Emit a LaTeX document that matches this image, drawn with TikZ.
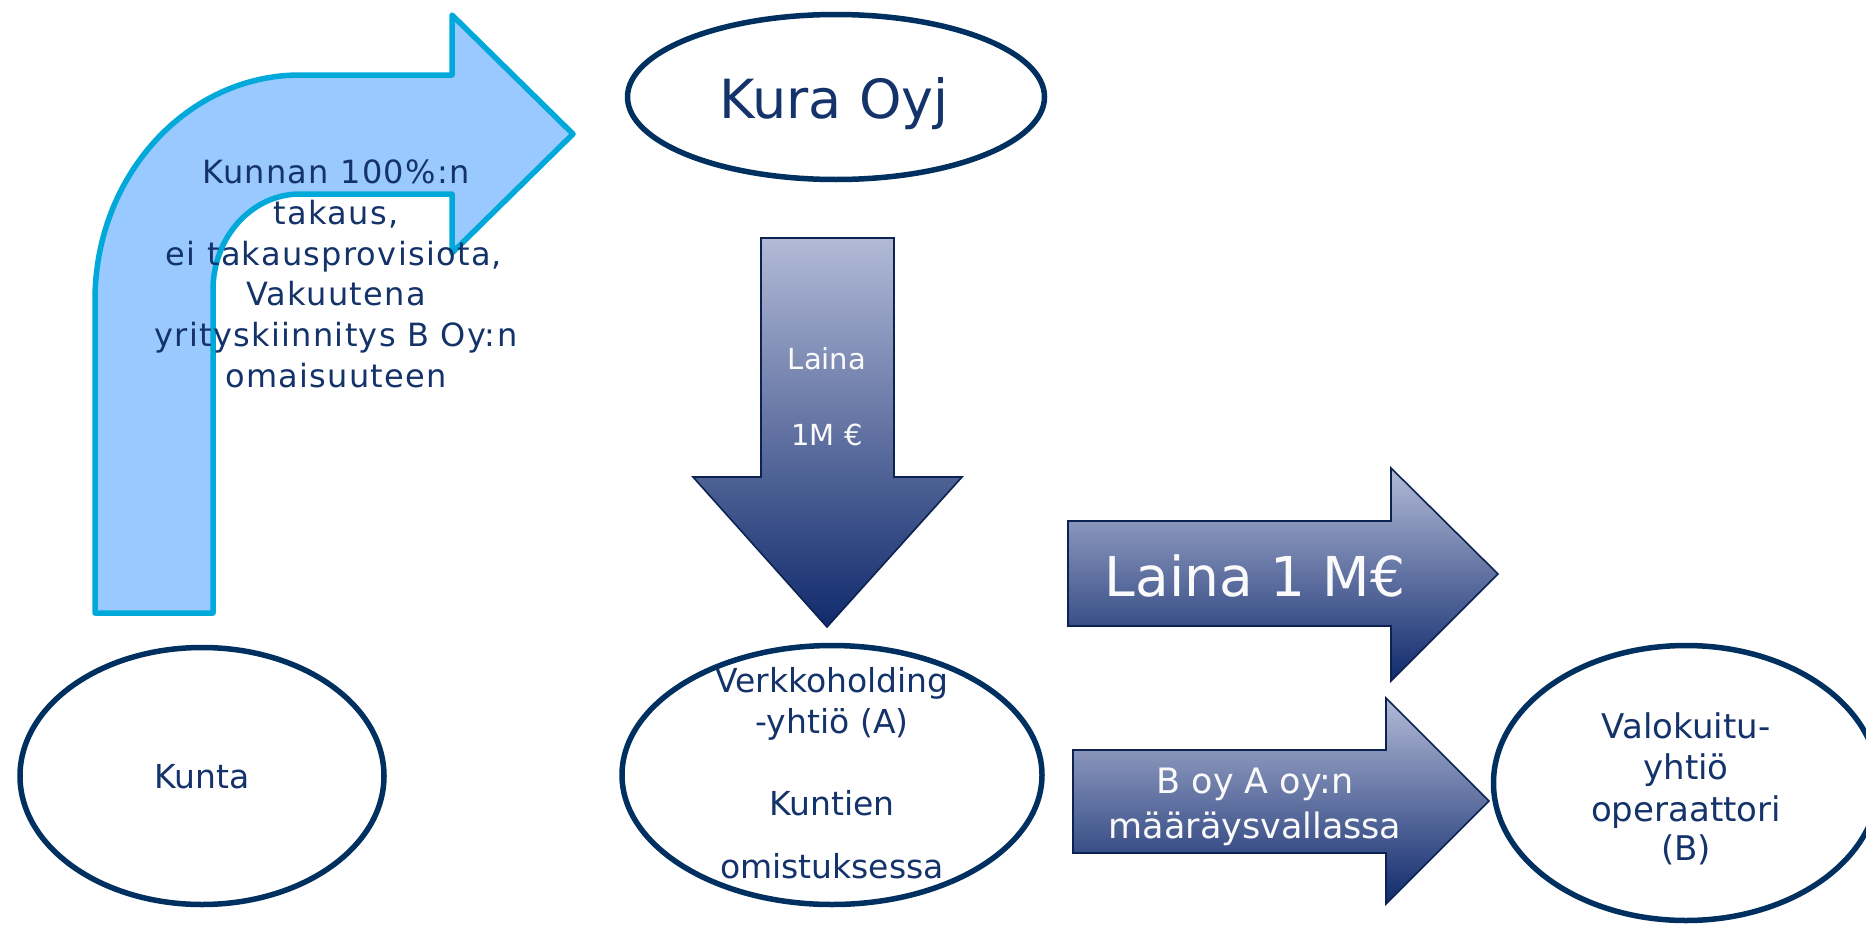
\documentclass[tikz,border=0pt]{standalone}
\usepackage{fontspec}
\setmainfont{DejaVu Sans}
\usetikzlibrary{shapes.geometric}
\definecolor{ellline}{HTML}{00305F}
\definecolor{txtnavy}{HTML}{14336A}
\definecolor{bentfill}{HTML}{99C9FF}
\definecolor{bentline}{HTML}{00A9D9}
\definecolor{gradtop}{HTML}{B2BAD7}
\definecolor{gradmid}{HTML}{858DAE}
\definecolor{gradbot}{HTML}{102A6C}
\definecolor{gradline}{HTML}{0C2352}
\tikzset{
  entity/.style={ellipse, draw=ellline, line width=5.5pt, inner sep=0pt, fill=white},
  bentarrow/.style={draw=bentline, fill=bentfill, line width=5.5pt, line join=round},
  gradarrow/.style={draw=gradline, line width=1.6pt, top color=gradtop, middle color=gradmid, bottom color=gradbot, line join=miter},
  dtxt/.style={anchor=base, inner sep=0pt, text=txtnavy},
  wtxt/.style={anchor=base, inner sep=0pt, text=white!96!gray},
}
\newcommand{\fsz}[1]{\fontsize{#1}{#1}\selectfont}
\newcommand{\bentfont}{\fontsize{32}{32}\selectfont\addfontfeature{LetterSpace=4}}
\begin{document}
\begin{tikzpicture}[x=1pt,y=-1pt]
\useasboundingbox (0,0) rectangle (1866,926);

% bent arrow
\path[bentarrow] (95,613) -- (95,300) .. controls (95,176) and (187,75) .. (300,75)
  -- (452,75) -- (452,15) -- (573,134) -- (452,253) -- (452,194) -- (300,194)
  .. controls (252,194) and (213,237) .. (213,290) -- (213,613) -- cycle;
\node[dtxt, font=\bentfont] (g1) at (336,183) {Kunnan 100\%:n};
\node[dtxt, font=\bentfont] (g2) at (336,224) {takaus,};
\node[dtxt, font=\bentfont] (g3) at (334,265) {ei takausprovisiota,};
\node[dtxt, font=\bentfont] (g4) at (336,305) {Vakuutena};
\node[dtxt, font=\bentfont] (g5) at (336,346) {yrityskiinnitys B Oy:n};
\node[dtxt, font=\bentfont] (g6) at (336,387) {omaisuuteen};

% Kura Oyj
\node[entity, minimum width=417pt, minimum height=165pt] (kura) at (836,97) {};
\node[dtxt, font=\fsz{54}] (kuratxt) at (834,118) {Kura Oyj};

% down arrow
\path[gradarrow] (761,238) -- (894,238) -- (894,477) -- (962,477) -- (827,627)
  -- (693,477) -- (761,477) -- cycle;
\node[wtxt, font=\fsz{29}] (l1) at (827,369) {Laina};
\node[wtxt, font=\fsz{29}] (l2) at (827,445) {1M €};

% right arrow 1
\path[gradarrow] (1068,521) -- (1391,521) -- (1391,468) -- (1498,574) -- (1391,681)
  -- (1391,626) -- (1068,626) -- cycle;
\node[wtxt, font=\fsz{55}] (r1) at (1255,596) {Laina 1 M€};

% right arrow 2
\path[gradarrow] (1073,750) -- (1386,750) -- (1386,698) -- (1489,801) -- (1386,904)
  -- (1386,853) -- (1073,853) -- cycle;
\node[wtxt, font=\fsz{35}] (r2a) at (1255,793) {B oy A oy:n};
\node[wtxt, font=\fsz{35}] (r2b) at (1255,838) {määräysvallassa};

% Kunta
\node[entity, minimum width=364pt, minimum height=257pt] (kunta) at (202,776) {};
\node[dtxt, font=\fsz{33}] (kuntatxt) at (202,788) {Kunta};

% Verkkoholding
\node[entity, minimum width=420pt, minimum height=259pt] (verkko) at (832,775) {};
\node[dtxt, font=\fsz{33}] (v1) at (832,692) {Verkkoholding};
\node[dtxt, font=\fsz{33}] (v2) at (832,733) {-yhtiö (A)};
\node[dtxt, font=\fsz{33}] (v3) at (832,815) {Kuntien};
\node[dtxt, font=\fsz{33}] (v4) at (832,878) {omistuksessa};

% Valokuitu
\node[entity, minimum width=385pt, minimum height=275pt] (valo) at (1686,783) {};
\node[dtxt, font=\fsz{34}] (b1) at (1686,738) {Valokuitu-};
\node[dtxt, font=\fsz{34}] (b2) at (1686,779) {yhtiö};
\node[dtxt, font=\fsz{34}] (b3) at (1686,821) {operaattori};
\node[dtxt, font=\fsz{34}] (b4) at (1686,860) {(B)};
\end{tikzpicture}
\end{document}
